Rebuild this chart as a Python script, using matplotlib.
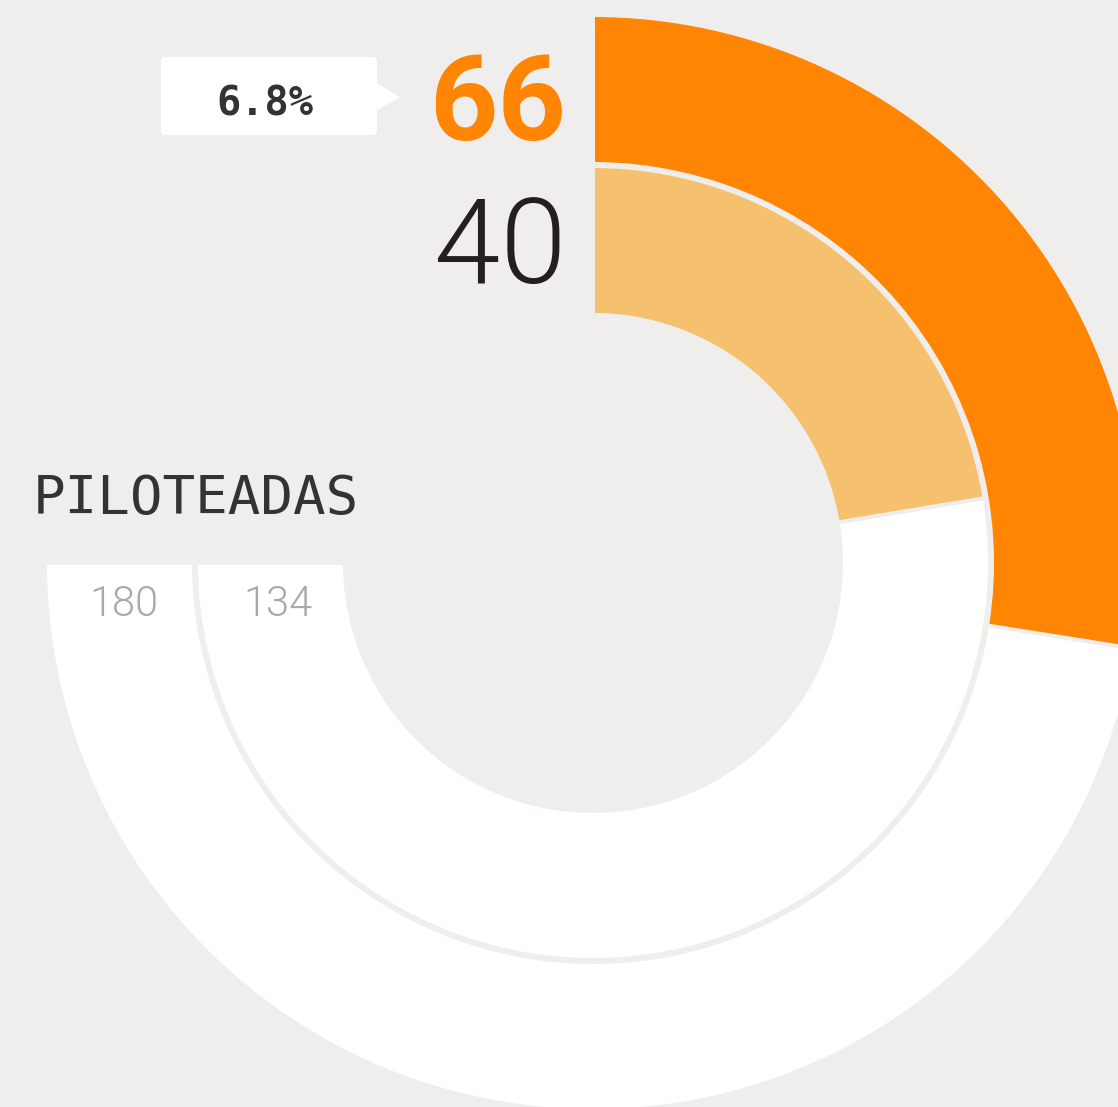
import matplotlib.pyplot as plt
from matplotlib.patches import Wedge, FancyBboxPatch, Polygon

# data
values = [66, 40]
maxima = [180, 134]
share_label = "6.8%"
title = "PILOTEADAS"

W, H = 1118, 1107
bg = "#efeeec"
colors = ["#ff8503", "#f6c16e"]
value_colors = ["#ff8503", "#231f20"]

fig = plt.figure(figsize=(W / 100, H / 100), dpi=100, facecolor=bg)
ax = fig.add_axes([0, 0, 1, 1])
ax.set_xlim(0, W)
ax.set_ylim(0, H)
ax.axis('off')
ax.set_facecolor(bg)

cx, cy = 593, H - 563
radii = [(548, 149), (397, 149)]   # outer radius, width
span = 270
lw = 4 * 0.72

for i in range(2):
    r, w = radii[i]
    # background track, three quarters of a circle
    ax.add_patch(Wedge((cx, cy), r, 90 - span, 90, width=w, facecolor="white",
                       edgecolor=bg, linewidth=lw))
    ang = values[i] / maxima[i] * span
    ax.add_patch(Wedge((cx, cy), r, 90 - ang, 90, width=w, facecolor=colors[i],
                       edgecolor=bg, linewidth=lw))

# big numbers
ax.text(566, H - 140, str(values[0]), ha='right', va='baseline', fontsize=86,
        fontweight='bold', color=value_colors[0], family='Roboto')
ax.text(566, H - 283, str(values[1]), ha='right', va='baseline', fontsize=86,
        fontweight=300, color=value_colors[1], family='Roboto')

# tooltip
box = FancyBboxPatch((161, H - 135), 216, 78, boxstyle="round,pad=0,rounding_size=5",
                     facecolor="white", edgecolor="none")
ax.add_patch(box)
ax.add_patch(Polygon([(376, H - 83), (400, H - 97), (376, H - 111)], closed=True,
                     facecolor="white", edgecolor="none"))
ax.text(265, H - 116, share_label, ha='center', va='baseline', fontsize=29,
        fontweight='bold', color="#333333", family='DejaVu Sans Mono')

# title and max labels
ax.text(33, H - 514, title, ha='left', va='baseline', fontsize=39,
        color="#333333", family='DejaVu Sans Mono')
for i, x in enumerate([124, 278]):
    ax.text(x, H - 616, str(maxima[i]), ha='center', va='baseline', fontsize=30,
            fontweight=300, color="#a8a8ac", family='Roboto')

fig.savefig("out.png", dpi=100, facecolor=bg)
